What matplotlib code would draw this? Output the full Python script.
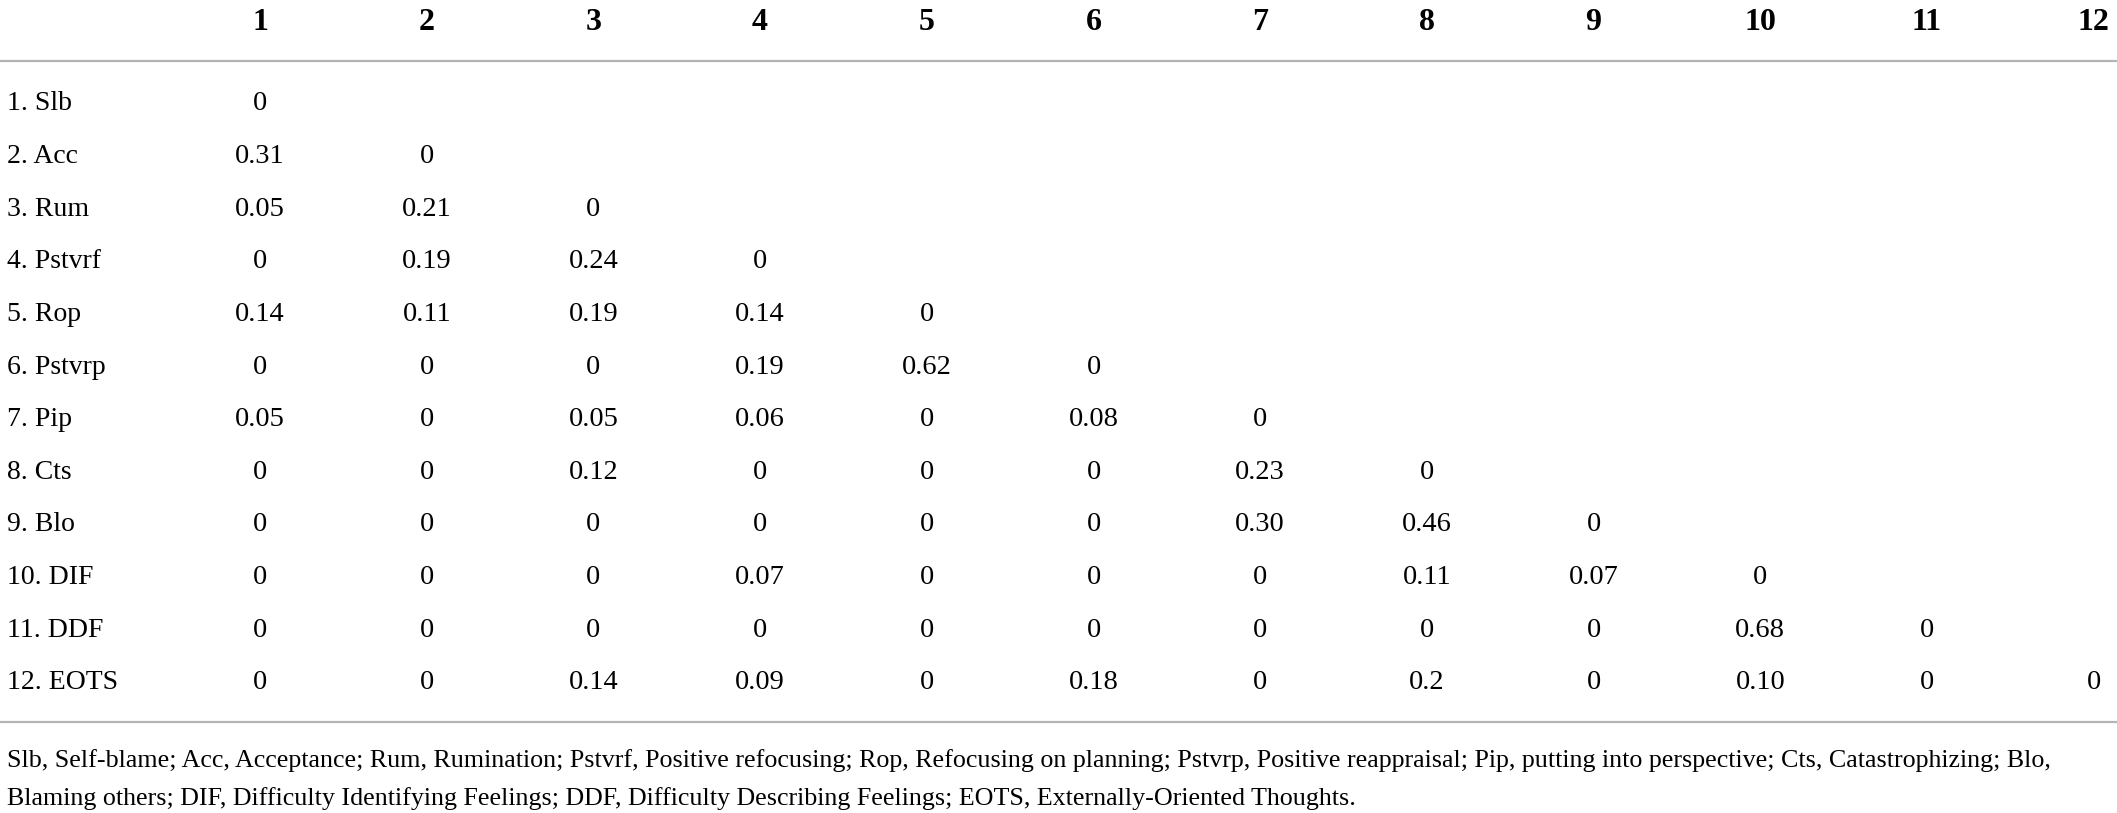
import matplotlib
matplotlib.use("Agg")
import matplotlib.pyplot as plt

# column headers and row labels
col_labels = ["1", "2", "3", "4", "5", "6", "7", "8", "9", "10", "11", "12"]
row_labels = ["1. Slb", "2. Acc", "3. Rum", "4. Pstvrf", "5. Rop", "6. Pstvrp",
              "7. Pip", "8. Cts", "9. Blo", "10. DIF", "11. DDF", "12. EOTS"]

# lower-triangular cell values (kept as printed)
row1 = ["0"]
row2 = ["0.31", "0"]
row3 = ["0.05", "0.21", "0"]
row4 = ["0", "0.19", "0.24", "0"]
row5 = ["0.14", "0.11", "0.19", "0.14", "0"]
row6 = ["0", "0", "0", "0.19", "0.62", "0"]
row7 = ["0.05", "0", "0.05", "0.06", "0", "0.08", "0"]
row8 = ["0", "0", "0.12", "0", "0", "0", "0.23", "0"]
row9 = ["0", "0", "0", "0", "0", "0", "0.30", "0.46", "0"]
row10 = ["0", "0", "0", "0.07", "0", "0", "0", "0.11", "0.07", "0"]
row11 = ["0", "0", "0", "0", "0", "0", "0", "0", "0", "0.68", "0"]
row12 = ["0", "0", "0.14", "0.09", "0", "0.18", "0", "0.2", "0", "0.10", "0", "0"]
rows = [row1, row2, row3, row4, row5, row6, row7, row8, row9, row10, row11, row12]

note_line1 = ("Slb, Self-blame; Acc, Acceptance; Rum, Rumination; Pstvrf, Positive refocusing; "
              "Rop, Refocusing on planning; Pstvrp, Positive reappraisal; Pip, putting into perspective; "
              "Cts, Catastrophizing; Blo,")
note_line2 = ("Blaming others; DIF, Difficulty Identifying Feelings; DDF, Difficulty Describing Feelings; "
              "EOTS, Externally-Oriented Thoughts.")

W, H = 2117, 813
fig = plt.figure(figsize=(W / 100, H / 100), dpi=100)
ax = fig.add_axes([0, 0, 1, 1])
ax.set_xlim(0, W)
ax.set_ylim(H, 0)
ax.axis("off")

font = "Liberation Serif"
col_x0, col_dx = 260, 166.7
row_y0, row_dy = 104, 52.6
header_y = 22

# header
for i, lab in enumerate(col_labels):
    ax.text(col_x0 + i * col_dx, header_y, lab, ha="center", va="center",
            fontsize=23, fontweight="bold", family=font, color="black")

ax.axhline(61, color="#b3b3b3", lw=1.6)

# body
for r, (lab, vals) in enumerate(zip(row_labels, rows)):
    y = row_y0 + r * row_dy
    ax.text(7, y, lab, ha="left", va="center", fontsize=20, family=font, color="black")
    for c, v in enumerate(vals):
        ax.text(col_x0 + c * col_dx, y, v, ha="center", va="center",
                fontsize=20.5, family=font, color="black")

ax.axhline(722, color="#b3b3b3", lw=1.6)

# footnote
ax.text(7, 761, note_line1, ha="left", va="center", fontsize=18.7, family=font, color="black")
ax.text(7, 799, note_line2, ha="left", va="center", fontsize=18.7, family=font, color="black")

fig.savefig("out.png", dpi=100, facecolor="white")
